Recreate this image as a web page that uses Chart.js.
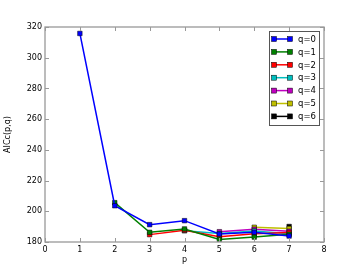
<!DOCTYPE html>
<html><head><meta charset="utf-8">
<script src="https://cdn.jsdelivr.net/npm/chart.js@4/dist/chart.umd.min.js"></script>
<style>html,body{margin:0;padding:0;background:#fff}#w{width:360px;height:270px}</style>
</head><body><div id="w"><canvas id="c" width="360" height="270"></canvas></div>
<script>
const seriesNames = ["q=0","q=1","q=2","q=3","q=4","q=5","q=6"];
const pQ0 = [1,2,3,4,5,6,7];
const aicQ0 = [315.8,203.6,191.3,193.9,185.2,186.3,183.9];
const pQ1 = [2,3,4,5,6,7];
const aicQ1 = [205.6,186.3,188.5,181.7,183.2,185.0];
const pQ2 = [3,4,5,6,7];
const aicQ2 = [184.8,187.6,183.4,185.3,186.2];
const pQ3 = [4,5,6,7];
const aicQ3 = [187.3,185.5,187.2,185.3];
const pQ4 = [5,6,7];
const aicQ4 = [186.7,188.3,187.0];
const pQ5 = [6,7];
const aicQ5 = [189.6,188.8];
const pQ6 = [7];
const aicQ6 = [190.1];
const xTicks = [0,1,2,3,4,5,6,7,8];
const yTicks = [180,200,220,240,260,280,300,320];
const colors = ["#0000ff","#008000","#ff0000","#00bfbf","#bf00bf","#bfbf00","#000000"];

const xs=[pQ0,pQ1,pQ2,pQ3,pQ4,pQ5,pQ6], ys=[aicQ0,aicQ1,aicQ2,aicQ3,aicQ4,aicQ5,aicQ6];
const datasets = seriesNames.map((n,i)=>({
  label:n,
  data: xs[i].map((p,j)=>({x:p,y:ys[i][j]})),
  borderColor:colors[i], backgroundColor:colors[i],
  pointBackgroundColor:colors[i], pointBorderColor:'#000', pointBorderWidth:0.5,
  pointStyle:'rect', pointRadius:3.2, borderWidth:1.5, tension:0
}));

const FONT = "'DejaVu Sans', sans-serif";
const frame = {
  id:'frame',
  afterDraw(chart){
    const {ctx, chartArea:a, scales:{x,y}} = chart;
    ctx.save();
    ctx.strokeStyle='#999'; ctx.lineWidth=1.3;
    ctx.strokeRect(a.left,a.top,a.right-a.left,a.bottom-a.top);
    ctx.lineWidth=1;
    ctx.beginPath();
    xTicks.forEach(t=>{const px=Math.round(x.getPixelForValue(t))+0.5;
      ctx.moveTo(px,a.bottom);ctx.lineTo(px,a.bottom-4);
      ctx.moveTo(px,a.top);ctx.lineTo(px,a.top+4);});
    yTicks.forEach(t=>{const py=Math.round(y.getPixelForValue(t))+0.5;
      ctx.moveTo(a.left,py);ctx.lineTo(a.left+4,py);
      ctx.moveTo(a.right,py);ctx.lineTo(a.right-4,py);});
    ctx.stroke();
    // legend
    const bx=269, by=31, bw=50, bh=94;
    ctx.fillStyle='#fff'; ctx.fillRect(bx,by,bw,bh);
    ctx.strokeStyle='#555'; ctx.lineWidth=1; ctx.strokeRect(bx+0.5,by+0.5,bw,bh);
    ctx.font="8.5px "+FONT; ctx.textBaseline='middle'; ctx.textAlign='left';
    chart.data.datasets.forEach((d,i)=>{
      const yy=by+8+i*12.9;
      ctx.strokeStyle=d.borderColor; ctx.lineWidth=1.5;
      ctx.beginPath(); ctx.moveTo(bx+5,yy); ctx.lineTo(bx+21,yy); ctx.stroke();
      [bx+5,bx+21].forEach(px=>{ctx.fillStyle=d.borderColor; ctx.fillRect(px-2.5,yy-2.5,5,5);
        ctx.strokeStyle='#000'; ctx.lineWidth=0.5; ctx.strokeRect(px-2.5,yy-2.5,5,5);});
      ctx.fillStyle='#000'; ctx.fillText(d.label,bx+29,yy+0.5);
    });
    ctx.restore();
  }
};

new Chart(document.getElementById('c'),{
  type:'line',
  data:{datasets},
  options:{
    responsive:false, animation:false, devicePixelRatio:1,
    layout:{padding:{left:3,top:27,right:36,bottom:5}},
    plugins:{legend:{display:false},tooltip:{enabled:false}},
    scales:{
      x:{type:'linear',min:0,max:8,
        afterBuildTicks(s){s.ticks=xTicks.map(v=>({value:v}));},
        afterFit(s){s.height=23;},
        grid:{display:false,drawTicks:false}, border:{display:false},
        ticks:{color:'#000',font:{family:FONT,size:8},padding:3,maxRotation:0},
        title:{display:true,text:'p',color:'#000',font:{family:FONT,size:8},padding:{top:0,bottom:0}}},
      y:{type:'linear',min:180,max:320,
        afterBuildTicks(s){s.ticks=yTicks.map(v=>({value:v}));},
        afterFit(s){s.width=42;},
        grid:{display:false,drawTicks:false}, border:{display:false},
        ticks:{color:'#000',font:{family:FONT,size:8},padding:3},
        title:{display:true,text:'AICc(p,q)',color:'#000',font:{family:FONT,size:8},padding:{top:0,bottom:0}}}
    }
  },
  plugins:[frame]
});
</script></body></html>
